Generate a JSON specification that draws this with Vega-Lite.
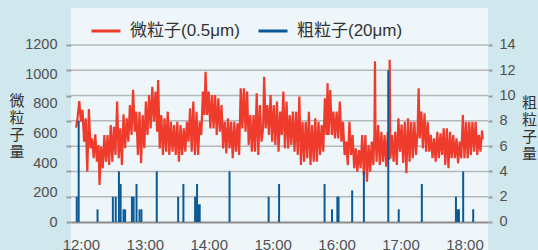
{
  "$schema": "https://vega.github.io/schema/vega-lite/v6.json",
  "width": 417,
  "height": 242,
  "autosize": {"type": "none"},
  "padding": {"left": 71, "top": 8, "right": 50, "bottom": 0},
  "background": "#d0e7ee",
  "config": {
    "view": {"fill": "#eef6f9", "stroke": null},
    "font": "Liberation Sans, Noto Sans CJK JP, sans-serif"
  },
  "datasets": {
    "grid": [{"g": 2}, {"g": 4}, {"g": 6}, {"g": 8}, {"g": 10}, {"g": 12}, {"g": 14}],
    "fine": [
      {"t":-4.5,"v":640},{"t":-3,"v":714},{"t":-1.5,"v":820},{"t":0,"v":680},{"t":1.5,"v":760},{"t":3,"v":545},{"t":4.5,"v":703},{"t":6,"v":341},{"t":7.5,"v":766},{"t":9,"v":500},{"t":10.5,"v":567},{"t":12,"v":432},{"t":13.5,"v":594},{"t":15,"v":409},{"t":16.5,"v":522},{"t":17.5,"v":251},{"t":19,"v":510},{"t":20.5,"v":364},{"t":22,"v":590},{"t":23.5,"v":409},{"t":25,"v":590},{"t":26.5,"v":386},{"t":28,"v":658},{"t":29.5,"v":409},{"t":31,"v":646},{"t":32.5,"v":454},{"t":34,"v":816},{"t":35.5,"v":432},{"t":37,"v":635},{"t":38.5,"v":386},{"t":40,"v":730},{"t":41.5,"v":500},{"t":43,"v":703},{"t":44.5,"v":545},{"t":46,"v":793},{"t":47.5,"v":590},{"t":49,"v":897},{"t":50.5,"v":612},{"t":52,"v":748},{"t":53.5,"v":454},{"t":55,"v":748},{"t":56.5,"v":398},{"t":58,"v":725},{"t":59.5,"v":500},{"t":61,"v":816},{"t":62.5,"v":590},{"t":64,"v":861},{"t":65.5,"v":635},{"t":67,"v":917},{"t":68.5,"v":680},{"t":70,"v":884},{"t":71.5,"v":612},{"t":72.5,"v":963},{"t":74,"v":499},{"t":75.5,"v":725},{"t":77,"v":454},{"t":78.5,"v":703},{"t":80,"v":477},{"t":81.5,"v":748},{"t":83,"v":454},{"t":84.5,"v":680},{"t":86,"v":477},{"t":87.5,"v":658},{"t":89,"v":454},{"t":90.5,"v":680},{"t":92,"v":409},{"t":93.5,"v":658},{"t":95,"v":454},{"t":96.5,"v":635},{"t":98,"v":477},{"t":99.5,"v":680},{"t":101,"v":545},{"t":102.5,"v":771},{"t":104,"v":477},{"t":105.5,"v":816},{"t":107,"v":454},{"t":108.5,"v":748},{"t":110,"v":454},{"t":111.5,"v":680},{"t":113,"v":590},{"t":114.5,"v":884},{"t":116,"v":725},{"t":117,"v":1019},{"t":118.5,"v":725},{"t":120,"v":884},{"t":121.5,"v":635},{"t":123,"v":861},{"t":124.5,"v":635},{"t":126,"v":861},{"t":127.5,"v":590},{"t":129,"v":838},{"t":130.5,"v":612},{"t":132,"v":793},{"t":133.5,"v":499},{"t":135,"v":680},{"t":136.5,"v":465},{"t":138,"v":703},{"t":139.5,"v":499},{"t":141,"v":680},{"t":142.5,"v":432},{"t":144,"v":680},{"t":145.5,"v":477},{"t":147,"v":669},{"t":148.5,"v":454},{"t":150,"v":906},{"t":151.5,"v":635},{"t":153,"v":906},{"t":154.5,"v":612},{"t":156,"v":884},{"t":157.5,"v":522},{"t":159,"v":725},{"t":160.5,"v":477},{"t":162,"v":725},{"t":163.5,"v":477},{"t":165,"v":872},{"t":166.5,"v":454},{"t":168,"v":793},{"t":169.5,"v":545},{"t":171,"v":635},{"t":172,"v":985},{"t":173.5,"v":635},{"t":175,"v":793},{"t":176.5,"v":590},{"t":178,"v":861},{"t":179.5,"v":545},{"t":181,"v":793},{"t":182.5,"v":522},{"t":184,"v":816},{"t":185.5,"v":477},{"t":187,"v":748},{"t":188.5,"v":590},{"t":190,"v":884},{"t":191.5,"v":499},{"t":193,"v":816},{"t":194.5,"v":499},{"t":196,"v":725},{"t":197.5,"v":522},{"t":199,"v":748},{"t":200.5,"v":477},{"t":202,"v":748},{"t":203.5,"v":454},{"t":205,"v":850},{"t":206.5,"v":386},{"t":208,"v":680},{"t":209.5,"v":409},{"t":211,"v":680},{"t":212.5,"v":432},{"t":214,"v":748},{"t":215.5,"v":386},{"t":217,"v":658},{"t":218.5,"v":409},{"t":220,"v":703},{"t":221.5,"v":409},{"t":223,"v":680},{"t":224.5,"v":454},{"t":226,"v":658},{"t":227.5,"v":477},{"t":229,"v":838},{"t":230.5,"v":590},{"t":231.5,"v":940},{"t":232.5,"v":590},{"t":234,"v":895},{"t":235.5,"v":590},{"t":237,"v":748},{"t":238.5,"v":567},{"t":240,"v":748},{"t":241.5,"v":567},{"t":243,"v":816},{"t":244.5,"v":545},{"t":246,"v":680},{"t":247.5,"v":454},{"t":249,"v":545},{"t":250.5,"v":386},{"t":252,"v":680},{"t":253.5,"v":454},{"t":255,"v":590},{"t":256.5,"v":364},{"t":258,"v":500},{"t":259.5,"v":341},{"t":261,"v":488},{"t":262.5,"v":364},{"t":264,"v":590},{"t":265.5,"v":319},{"t":267,"v":590},{"t":268.5,"v":273},{"t":270,"v":522},{"t":271.5,"v":341},{"t":273,"v":545},{"t":274.5,"v":386},{"t":275.5,"v":600},{"t":276,"v":1090},{"t":276.5,"v":620},{"t":277.5,"v":409},{"t":279,"v":658},{"t":280.5,"v":386},{"t":282,"v":612},{"t":283.5,"v":409},{"t":285,"v":590},{"t":286.5,"v":375},{"t":288,"v":612},{"t":289,"v":420},{"t":289.8,"v":1100},{"t":290.5,"v":430},{"t":292,"v":590},{"t":293.5,"v":409},{"t":295,"v":612},{"t":296.5,"v":386},{"t":298,"v":703},{"t":299.5,"v":477},{"t":301,"v":660},{"t":302.5,"v":400},{"t":304,"v":680},{"t":305.5,"v":330},{"t":307,"v":703},{"t":308.5,"v":409},{"t":310,"v":680},{"t":311.5,"v":432},{"t":313,"v":680},{"t":314.5,"v":454},{"t":316,"v":620},{"t":317,"v":906},{"t":318,"v":567},{"t":319.5,"v":748},{"t":321,"v":499},{"t":322.5,"v":737},{"t":324,"v":477},{"t":325.5,"v":680},{"t":327,"v":477},{"t":328.5,"v":590},{"t":330,"v":432},{"t":331.5,"v":567},{"t":333,"v":409},{"t":334.5,"v":612},{"t":336,"v":432},{"t":337.5,"v":601},{"t":339,"v":454},{"t":340.5,"v":635},{"t":342,"v":386},{"t":343.5,"v":635},{"t":345,"v":364},{"t":346.5,"v":612},{"t":348,"v":432},{"t":349.5,"v":590},{"t":351,"v":432},{"t":352.5,"v":567},{"t":354,"v":398},{"t":355.5,"v":545},{"t":357,"v":432},{"t":358.5,"v":725},{"t":360,"v":432},{"t":361.5,"v":680},{"t":363,"v":432},{"t":364.5,"v":680},{"t":366,"v":454},{"t":367.5,"v":680},{"t":369,"v":477},{"t":370.5,"v":680},{"t":372,"v":454},{"t":373.5,"v":590},{"t":375,"v":477},{"t":376.5,"v":620},{"t":377.2,"v":560}
    ],
    "coarse": [
      {"t":-3.9,"c":2},{"t":-2.1,"c":8},{"t":15.6,"c":1},{"t":30,"c":2},{"t":32.7,"c":2},{"t":35.7,"c":4},{"t":37.3,"c":3},{"t":40,"c":1},{"t":41.5,"c":1},{"t":47.9,"c":2},{"t":49.5,"c":2},{"t":52.2,"c":3},{"t":55,"c":1},{"t":56.8,"c":1},{"t":71.2,"c":4},{"t":91.3,"c":2},{"t":96.2,"c":3},{"t":107.2,"c":2},{"t":109,"c":3},{"t":110,"c":1.4},{"t":111.5,"c":1.4},{"t":139.5,"c":4},{"t":176.2,"c":2},{"t":186,"c":3},{"t":228.7,"c":3},{"t":235.7,"c":1},{"t":240.7,"c":2},{"t":241.8,"c":2},{"t":254.6,"c":2.5},{"t":265.6,"c":4},{"t":288.5,"c":12},{"t":298.3,"c":1},{"t":320,"c":3},{"t":352,"c":2},{"t":353.3,"c":1},{"t":354.8,"c":1},{"t":358.8,"c":4},{"t":368.2,"c":1}
    ]
  },
  "layer": [
    {
      "data": {"name": "grid"},
      "mark": {"type": "rule", "color": "#b4b8ba", "strokeWidth": 1.5},
      "encoding": {
        "y": {
          "field": "g", "type": "quantitative",
          "scale": {"domain": [-2.2147, 16.926], "nice": false, "zero": false},
          "axis": {"orient": "left", "values": [0, 2, 4, 6, 8, 10, 12, 14], "labels": false, "ticks": true, "tickSize": 5, "tickColor": "#9a9a9a", "tickWidth": 2, "domain": false, "grid": false, "title": null}
        }
      }
    },
    {
      "data": {"name": "fine"},
      "mark": {"type": "line", "strokeWidth": 2.2},
      "encoding": {
        "x": {
          "field": "t", "type": "quantitative",
          "scale": {"domain": [-4.6, 377.4], "nice": false, "zero": false},
          "axis": {"values": [0, 60, 120, 180, 240, 300, 360], "labelExpr": "(12 + datum.value / 60) + ':00'", "offset": -28, "ticks": false, "grid": false, "domainColor": "#8c8c8c", "domainWidth": 2, "labelPadding": 15, "labelFontSize": 15, "labelColor": "#505050", "labelFont": "Liberation Sans", "title": null}
        },
        "y": {
          "field": "v", "type": "quantitative",
          "scale": {"domain": [-189.8, 1450.8], "nice": false, "zero": false},
          "axis": {"orient": "left", "values": [0, 200, 400, 600, 800, 1000, 1200], "format": "d", "ticks": false, "domain": false, "grid": false, "labelPadding": 14, "labelFontSize": 14.5, "labelColor": "#505050", "labelFont": "Liberation Sans",
            "title": ["微", "粒", "子", "量"], "titleAngle": 0, "titleX": -54.5, "titleY": 92, "titleAlign": "center", "titleBaseline": "middle", "titleFontSize": 15, "titleLineHeight": 17, "titleFontWeight": "normal", "titleColor": "#333333", "titleFont": "Noto Sans CJK JP"}
        },
        "color": {
          "datum": "微粒子(0.5μm)", "type": "nominal",
          "scale": {"domain": ["微粒子(0.5μm)", "粗粒子(20μm)"], "range": ["#ef3b2c", "#0b5a96"]},
          "legend": {"orient": "none", "legendX": 19, "legendY": 7, "direction": "horizontal", "title": null, "symbolType": "stroke", "symbolSize": 841, "symbolStrokeWidth": 3, "labelFontSize": 17, "labelColor": "#333333", "labelFont": "Liberation Sans, Noto Sans CJK JP", "labelOffset": 8, "columnPadding": 12, "padding": 0,
            "encode": {"symbols": {"update": {"stroke": [{"test": "datum.value === '粗粒子(20μm)'", "value": "#2b3f75"}, {"value": "#ef3b2c"}], "strokeWidth": {"value": 3}}}}}
        }
      }
    },
    {
      "data": {"name": "coarse"},
      "mark": {"type": "bar", "width": 2},
      "encoding": {
        "x": {"field": "t", "type": "quantitative"},
        "y": {
          "field": "c", "type": "quantitative",
          "scale": {"domain": [-2.2147, 16.926], "nice": false, "zero": false},
          "axis": {"orient": "right", "values": [0, 2, 4, 6, 8, 10, 12, 14], "ticks": true, "tickSize": 4, "tickColor": "#9a9a9a", "tickWidth": 2, "domain": false, "grid": false, "labelPadding": 7, "labelFontSize": 14.5, "labelColor": "#505050", "labelFont": "Liberation Sans",
            "title": ["粗", "粒", "子", "量"], "titleAngle": 0, "titleX": 41, "titleY": 94, "titleAlign": "center", "titleBaseline": "middle", "titleFontSize": 15, "titleLineHeight": 17, "titleFontWeight": "normal", "titleColor": "#333333", "titleFont": "Noto Sans CJK JP"}
        },
        "y2": {"datum": 0},
        "color": {
          "datum": "粗粒子(20μm)", "type": "nominal",
          "legend": {"orient": "none", "legendX": 19, "legendY": 7, "direction": "horizontal", "title": null, "symbolType": "stroke", "symbolSize": 841, "symbolStrokeWidth": 3, "labelFontSize": 17, "labelColor": "#333333", "labelFont": "Liberation Sans, Noto Sans CJK JP", "labelOffset": 8, "columnPadding": 12, "padding": 0,
            "encode": {"symbols": {"update": {"stroke": [{"test": "datum.value === '粗粒子(20μm)'", "value": "#2b3f75"}, {"value": "#ef3b2c"}], "strokeWidth": {"value": 3}}}}}
        }
      }
    }
  ],
  "resolve": {"scale": {"y": "independent"}, "axis": {"y": "independent"}}
}
